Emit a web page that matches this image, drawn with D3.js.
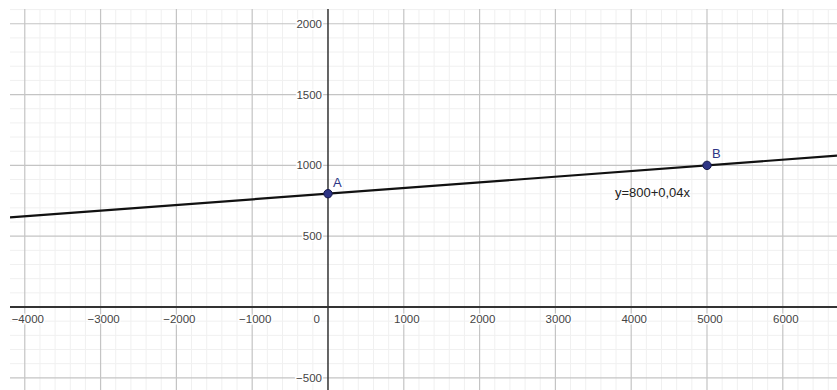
<!DOCTYPE html>
<html>
<head>
<meta charset="utf-8">
<script src="https://cdn.jsdelivr.net/npm/d3@7"></script>
<style>
  body { margin: 0; background: #fff; }
  svg { display: block; }
  .tick-label { font-family: "Liberation Sans", Arial, sans-serif; font-size: 11.5px; fill: #444; }
</style>
</head>
<body>
<div id="graph"></div>
<script>
//-- Data --//
var xTicks = [-4000, -3000, -2000, -1000, 0, 1000, 2000, 3000, 4000, 5000, 6000],
    yTicks = [-500, 0, 500, 1000, 1500, 2000];
var points = [
  {name: "A", x: 0, y: 800},
  {name: "B", x: 5000, y: 1000}
];
var lineIntercept = 800, lineSlope = 0.04,
    lineLabel = "y=800+0,04x";

//-- SVG setup --//
var width = 837, height = 390;
var svg = d3.select("#graph").append("svg")
  .attr("width", width)
  .attr("height", height);

//-- Scales --//
var xScale = d3.scaleLinear().domain([-4195, 6715]).range([10, 837]),
    yScale = d3.scaleLinear().domain([2104, -586]).range([9, 390]);

var xDom = xScale.domain(), yDom = yScale.domain();

//-- Minor grid --//
var minorX = d3.range(-4200, 6800, 200).filter(function(v){ return v >= xDom[0] && v % 1000 != 0; }),
    minorY = d3.range(-500, 2200, 100).filter(function(v){ return v <= yDom[0] && v % 500 != 0; });

var grid = svg.append("g").attr("class", "grid");
grid.selectAll(".minor-x").data(minorX).enter().append("line")
  .attr("x1", function(d){ return xScale(d); }).attr("x2", function(d){ return xScale(d); })
  .attr("y1", 9).attr("y2", height)
  .style("stroke", "#f0f0f0").style("stroke-width", 1);
grid.selectAll(".minor-y").data(minorY).enter().append("line")
  .attr("y1", function(d){ return yScale(d); }).attr("y2", function(d){ return yScale(d); })
  .attr("x1", 10).attr("x2", width)
  .style("stroke", "#f0f0f0").style("stroke-width", 1);

//-- Major grid --//
grid.selectAll(".major-x").data(xTicks.filter(function(d){ return d != 0; })).enter().append("line")
  .attr("x1", function(d){ return xScale(d); }).attr("x2", function(d){ return xScale(d); })
  .attr("y1", 9).attr("y2", height)
  .style("stroke", "#c4c4c4").style("stroke-width", 1.2);
grid.selectAll(".major-y").data(yTicks.filter(function(d){ return d != 0; })).enter().append("line")
  .attr("y1", function(d){ return yScale(d); }).attr("y2", function(d){ return yScale(d); })
  .attr("x1", 10).attr("x2", width)
  .style("stroke", "#c4c4c4").style("stroke-width", 1.2);

//-- Axes --//
svg.append("line")
  .attr("x1", 10).attr("x2", width)
  .attr("y1", yScale(0)).attr("y2", yScale(0))
  .style("stroke", "#333").style("stroke-width", 2);
svg.append("line")
  .attr("x1", xScale(0)).attr("x2", xScale(0))
  .attr("y1", 9).attr("y2", height)
  .style("stroke", "#333").style("stroke-width", 1.5);

//-- Tick labels (white halo behind like GeoGebra) --//
var labels = svg.append("g");
labels.selectAll(".xlab").data(xTicks).enter().append("text")
  .attr("class", "tick-label")
  .attr("x", function(d){ return d == 0 ? xScale(d) - 8 : xScale(d) + 3; })
  .attr("y", yScale(0) + 16)
  .attr("text-anchor", function(d){ return d == 0 ? "end" : "middle"; })
  .style("paint-order", "stroke").style("stroke", "#fff").style("stroke-width", 3)
  .text(function(d){ return d < 0 ? "\u2212" + Math.abs(d) : d; });
labels.selectAll(".ylab").data(yTicks.filter(function(d){ return d != 0; })).enter().append("text")
  .attr("class", "tick-label")
  .attr("x", xScale(0) - 6)
  .attr("y", function(d){ return yScale(d) + 4; })
  .attr("text-anchor", "end")
  .style("paint-order", "stroke").style("stroke", "#fff").style("stroke-width", 3)
  .text(function(d){ return d < 0 ? "\u2212" + Math.abs(d) : d; });

//-- The line y = 800 + 0.04x across the view --//
var lineData = xDom.map(function(x){ return {x: x, y: lineIntercept + lineSlope * x}; });
svg.append("path")
  .datum(lineData)
  .attr("d", d3.line().x(function(d){ return xScale(d.x); }).y(function(d){ return yScale(d.y); }))
  .style("fill", "none").style("stroke", "#111").style("stroke-width", 2.2);

svg.append("text")
  .attr("class", "tick-label")
  .attr("x", xScale(3785))
  .attr("y", yScale(800) + 3)
  .style("font-size", "13px").style("fill", "#222")
  .text(lineLabel);

//-- Points --//
var pts = svg.append("g").selectAll(".pt").data(points).enter().append("g");
pts.append("circle")
  .attr("cx", function(d){ return xScale(d.x); })
  .attr("cy", function(d){ return yScale(d.y); })
  .attr("r", 4.2)
  .style("fill", "#2e3585").style("stroke", "#15184a").style("stroke-width", 1);
pts.append("text")
  .attr("x", function(d){ return xScale(d.x) + 5; })
  .attr("y", function(d){ return yScale(d.y) - 7; })
  .style("font-family", "'Liberation Sans', Arial, sans-serif")
  .style("font-size", "13px").style("fill", "#2e3585")
  .text(function(d){ return d.name; });
</script>
</body>
</html>
